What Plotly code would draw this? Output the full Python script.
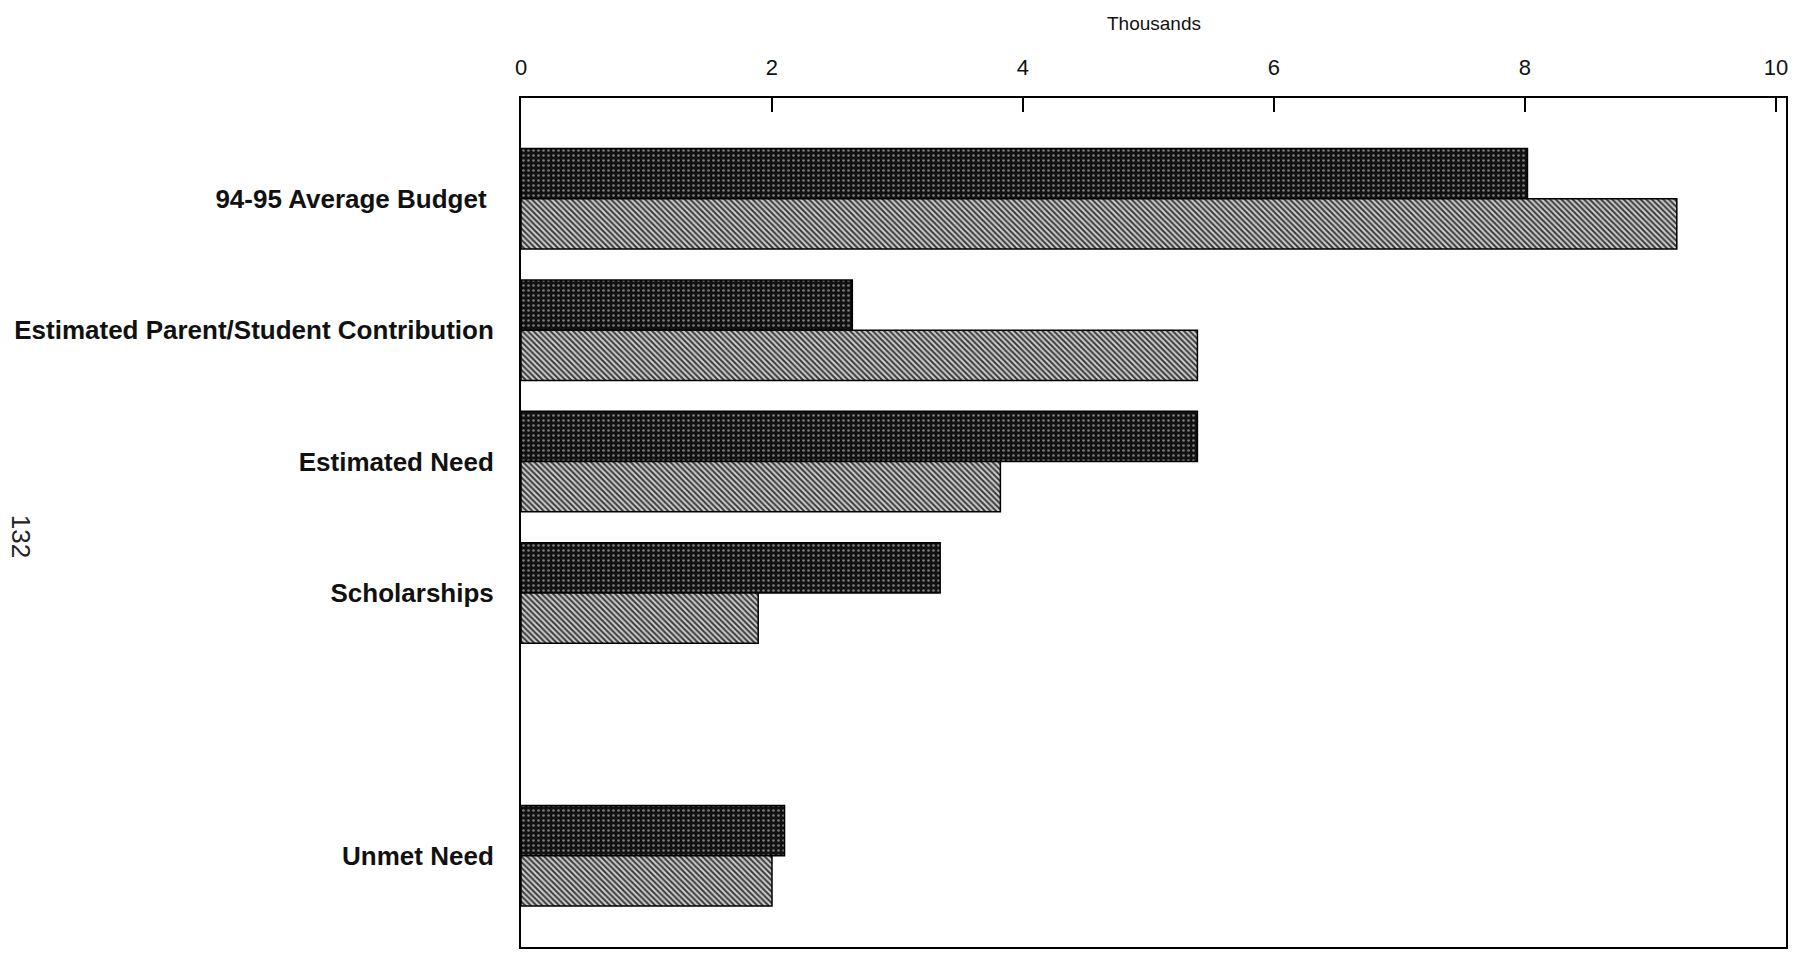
import plotly.graph_objects as go

# Financial aid components (in thousands of dollars)
categories = [
    "94-95 Average Budget ",
    "Estimated Parent/Student Contribution",
    "Estimated Need",
    "Scholarships",
    " ",
    "Unmet Need",
]
series_a = [8.02, 2.64, 5.39, 3.34, None, 2.10]
series_b = [9.21, 5.39, 3.82, 1.89, None, 2.00]
x_ticks = [0, 2, 4, 6, 8, 10]

FONT = "Liberation Sans, Arial, sans-serif"

fig = go.Figure()
fig.add_trace(go.Bar(
    y=categories, x=series_a, orientation="h",
    marker=dict(
        color="#111111",
        line=dict(color="#000", width=1.5),
        pattern=dict(shape=".", fgcolor="#7a7a7a", bgcolor="#111111",
                     size=5, solidity=0.22, fillmode="replace"),
    ),
    showlegend=False, hoverinfo="x+y",
))
fig.add_trace(go.Bar(
    y=categories, x=series_b, orientation="h",
    marker=dict(
        color="#c8c8c8",
        line=dict(color="#000", width=1.5),
        pattern=dict(shape="\\", fgcolor="#3a3a3a", bgcolor="#cfcfcf",
                     size=4, solidity=0.5, fillmode="replace"),
    ),
    showlegend=False, hoverinfo="x+y",
))

fig.update_layout(
    width=1796, height=955,
    margin=dict(l=521, r=10, t=98, b=6),
    paper_bgcolor="white", plot_bgcolor="white",
    barmode="group", bargap=0.235, bargroupgap=0,
    font=dict(family=FONT, color="#111"),
    xaxis=dict(
        side="top", range=[0, 10.08],
        tickvals=x_ticks, ticktext=[str(v) for v in x_ticks],
        ticks="inside", ticklen=14, tickwidth=1.5, tickcolor="#000",
        tickfont=dict(size=22, family=FONT, color="#111"),
        ticklabelstandoff=12,
        showgrid=False, zeroline=False,
        showline=True, linecolor="#000", linewidth=2, mirror=True,
    ),
    yaxis=dict(
        type="category", categoryorder="array", categoryarray=categories,
        range=[5.695, -0.767],
        ticks="", showgrid=False, zeroline=False,
        tickfont=dict(size=26, family=FONT, color="#111", weight="bold"),
        ticklabelstandoff=20,
        showline=True, linecolor="#000", linewidth=2, mirror=True,
    ),
    annotations=[
        dict(text="Thousands", xref="paper", yref="paper", x=0.5, y=1.088,
             xanchor="center", yanchor="middle", showarrow=False,
             font=dict(size=19, family=FONT, color="#111")),
        dict(text="132", xref="paper", yref="paper", x=-0.395, y=0.484,
             xanchor="center", yanchor="middle", showarrow=False,
             textangle=90, font=dict(size=26, family=FONT, color="#222")),
    ],
)

fig.write_html("out.html")
